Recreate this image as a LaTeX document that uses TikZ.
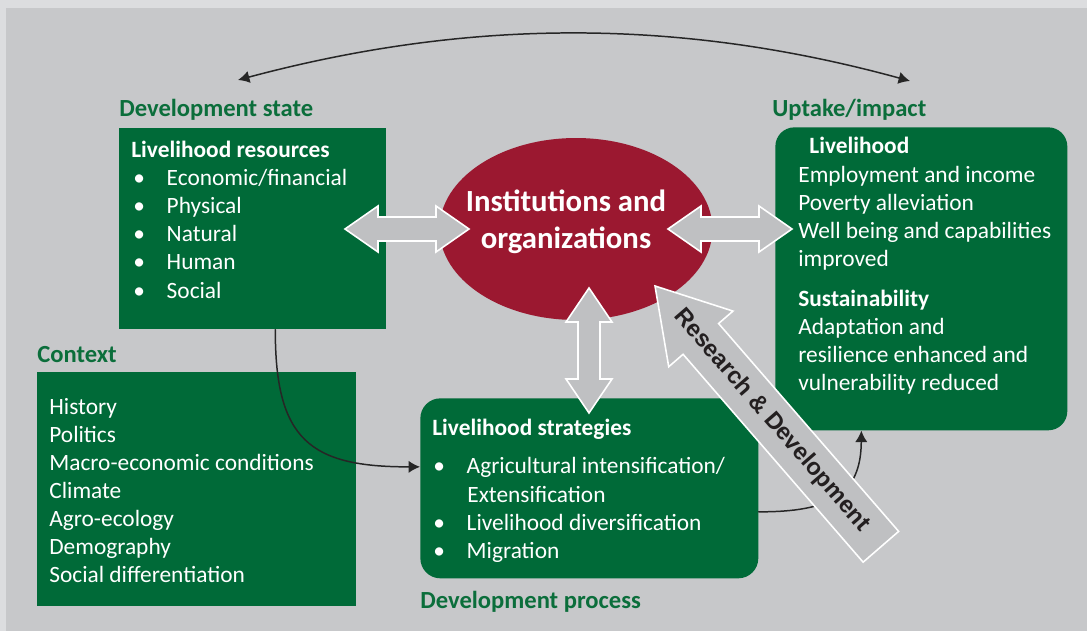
\documentclass[tikz,border=0pt]{standalone}
\usepackage{fontspec}
\setmainfont{Carlito}
\newfontfamily\rdfont{Liberation Sans}
\usetikzlibrary{arrows.meta,shapes.geometric}

\definecolor{outerbg}{HTML}{DCDDDF}
\definecolor{innerbg}{HTML}{C7C8CA}
\definecolor{boxgreen}{HTML}{006A38}
\definecolor{headgreen}{HTML}{0B6E3B}
\definecolor{instred}{HTML}{9B1830}
\definecolor{arrowgray}{HTML}{BFC0C2}
\definecolor{rdtext}{HTML}{231F20}

\tikzset{
  greenbox/.style={fill=boxgreen,draw=none,inner sep=0pt,anchor=north west},
  headlbl/.style={anchor=base west,inner sep=0pt,text=headgreen,font=\fontsize{14}{17}\selectfont\bfseries},
  boxtxt/.style={anchor=base west,inner sep=0pt,text=white,font=\fontsize{13.3}{16}\selectfont},
  boxhead/.style={boxtxt,font=\fontsize{13.3}{16}\selectfont\bfseries},
  blockarrow/.style={fill=arrowgray,draw=white,line width=0.9pt,line join=miter},
  link/.style={draw=black!85,line width=0.85pt}
}

\begin{document}
\begin{tikzpicture}[x=0.02cm,y=-0.02cm,line cap=round,>={Latex[length=6.5pt,width=7pt]}]
  \useasboundingbox (0,0) rectangle (1087,631);
  \fill[outerbg] (0,0) rectangle (1087,631);
  \fill[innerbg] (6,8) rectangle (1087,631);

  % boxes and ellipse
  \node[greenbox,minimum width=5.34cm,minimum height=4.02cm] (resources) at (119,128) {};
  \node[greenbox,minimum width=6.38cm,minimum height=4.68cm] (context) at (37,372) {};
  \node[greenbox,rounded corners=0.4cm,minimum width=6.76cm,minimum height=3.6cm] (strategies) at (420,398) {};
  \node[greenbox,rounded corners=0.38cm,minimum width=5.84cm,minimum height=6.06cm] (uptake) at (775,127) {};
  \node[ellipse,fill=instred,inner sep=0pt,minimum width=5.46cm,minimum height=3.64cm] (inst) at (576,229) {};

  % group labels
  \node[headlbl] (statelbl) at (119,117) {Development state};
  \node[headlbl] (impactlbl) at (772,117) {Uptake/impact};
  \node[headlbl] (contextlbl) at (37,362) {Context};
  \node[headlbl] (processlbl) at (420,608) {Development process};

  % livelihood resources
  \node[boxhead] (reshead) at (131,158) {Livelihood resources};
  \foreach \lbl [count=\i] in {Economic/financial,Physical,Natural,Human,Social}
    \node[boxtxt] (res\i) at (133,{158+28*\i}) {\makebox[19pt][l]{•}\lbl};

  % context
  \foreach \lbl [count=\i] in {History,Politics,Macro-economic conditions,Climate,Agro-ecology,Demography,Social differentiation}
    \node[boxtxt] (ctx\i) at (49,{386+28*\i}) {\lbl};

  % livelihood strategies
  \node[boxhead] (strathead) at (432,435) {Livelihood strategies};
  \node[boxtxt] (strat1) at (433,473) {\makebox[19pt][l]{•}Agricultural intensification/};
  \node[boxtxt] (strat2) at (467,502) {Extensification};
  \node[boxtxt] (strat3) at (433,530) {\makebox[19pt][l]{•}Livelihood diversification};
  \node[boxtxt] (strat4) at (433,558) {\makebox[19pt][l]{•}Migration};

  % uptake
  \node[boxhead] (livhead) at (809,154) {Livelihood};
  \foreach \lbl [count=\i] in {Employment and income,Poverty alleviation,Well being and capabilities,improved}
    \node[boxtxt] (liv\i) at (798,{155+28*\i}) {\lbl};
  \node[boxhead] (sushead) at (798,306) {Sustainability};
  \foreach \lbl [count=\i] in {Adaptation and,resilience enhanced and,vulnerability reduced}
    \node[boxtxt] (sus\i) at (798,{306+28*\i}) {\lbl};

  % ellipse text
  \node[align=center,text=white,inner sep=0pt,font=\fontsize{17.5}{21}\selectfont\bfseries] (insttxt) at (566,222) {Institutions and\\organizations};

  % thin connectors
  \coordinate (topL) at (238,80);
  \coordinate (topR) at (910,81);
  \draw[link,<->] (topL) .. controls (470,18) and (680,18) .. (topR);
  \draw[link,->] ([xshift=0.45cm]resources.south) .. controls (275,440) and (310,467) .. ([yshift=0.43cm]strategies.west);
  \draw[link,->] ([yshift=-0.47cm]strategies.east) .. controls (830,512) and (861,495) .. ([xshift=-1.2cm]uptake.south);

  % block arrows
  \draw[blockarrow] (345,229) -- (378,206) -- (378,217) -- (436,217) -- (436,206) -- (469,229)
    -- (436,252) -- (436,241) -- (378,241) -- (378,252) -- cycle;
  \draw[blockarrow] (668,229) -- (701,206) -- (701,217) -- (759,217) -- (759,206) -- (792,229)
    -- (759,252) -- (759,241) -- (701,241) -- (701,252) -- cycle;
  \draw[blockarrow] (589,288) -- (612,322) -- (600,322) -- (600,379) -- (612,379) -- (589,413)
    -- (566,379) -- (578,379) -- (578,322) -- (566,322) -- cycle;

  % research and development
  \begin{scope}[shift={(655,286)},rotate=-49.1]
    \draw[blockarrow] (0,0) -- (70,-42.5) -- (70,-23.5) -- (345,-23.5) -- (345,23.5) -- (70,23.5) -- (70,42.5) -- cycle;
    \node[rotate=-49.1,text=rdtext,inner sep=0pt,font=\rdfont\fontsize{13.5}{16}\selectfont\bfseries] (rdlbl) at (178,0) {Research \& Development};
  \end{scope}
\end{tikzpicture}
\end{document}
